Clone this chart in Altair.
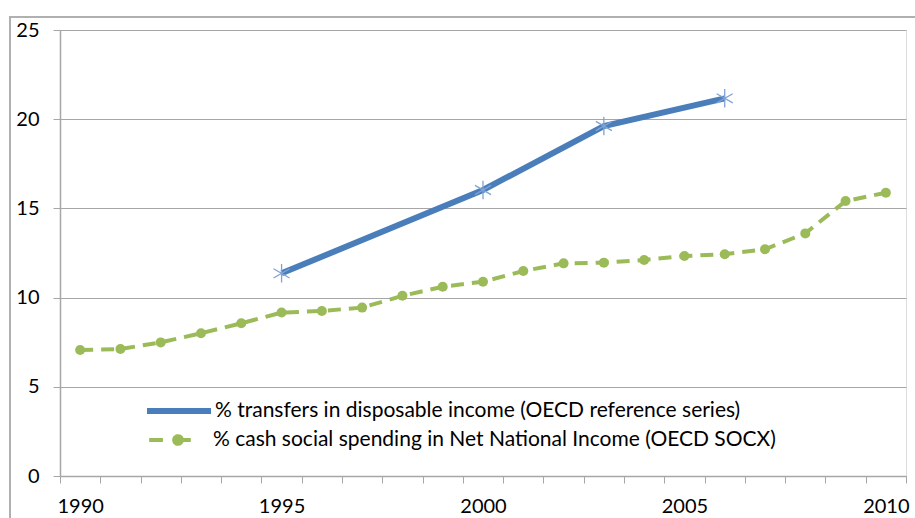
import altair as alt
import pandas as pd

# ---- data ----
years_socx = list(range(1990, 2011))
socx_values = [7.06, 7.12, 7.49, 8.0, 8.56, 9.16, 9.25, 9.44, 10.1, 10.61, 10.89,
               11.49, 11.92, 11.96, 12.11, 12.33, 12.43, 12.71, 13.6, 15.41, 15.88]
years_ref = [1995, 2000, 2003, 2006]
ref_values = [11.36, 16.03, 19.62, 21.17]
label_ref = "% transfers in disposable income (OECD reference series)"
label_socx = "% cash social spending in Net National Income (OECD SOCX)"
x_label_values = [1990, 1995, 2000, 2005, 2010]
x_tick_values = [y - 0.5 for y in range(1990, 2012)]
y_values = [0, 5, 10, 15, 20, 25]

BLUE = "#4A7EBB"
STAR = "#7FA3D4"
GREEN = "#9BBB59"
GRID = "#A6A6A6"
FONT = "Lato"

df_ref = pd.DataFrame({"year": years_ref, "value": ref_values, "series": label_ref})
df_socx = pd.DataFrame({"year": years_socx, "value": socx_values, "series": label_socx})

xscale = alt.Scale(domain=[1989.5, 2010.5], nice=False, zero=False)
yscale = alt.Scale(domain=[0, 25], nice=False)

y_axis = alt.Axis(values=y_values, title=None, grid=True, gridColor=GRID,
                  gridWidth=1, domainColor=GRID, domainWidth=1.5, orient="left",
                  tickColor=GRID, tickSize=7, labelFont=FONT,
                  labelFontSize=20, labelColor="black", labelPadding=14,
                  labelBaseline="middle")
y_enc = alt.Y("value:Q", scale=yscale, axis=y_axis)

x_ticks_axis = alt.Axis(values=x_tick_values, labels=False, title=None, grid=False,
                        orient="bottom", domainColor=GRID, domainWidth=1.5,
                        tickColor=GRID, tickSize=7)
x_labels_axis = alt.Axis(values=x_label_values, format="d", ticks=False, domain=False,
                         orient="bottom", title=None, grid=False, labelFont=FONT,
                         labelFontSize=20, labelColor="black", labelPadding=20)

border = alt.Chart(pd.DataFrame({"a": [0]})).mark_rect(
    fill=None, stroke="#B0B0B0", strokeWidth=2
).encode(x=alt.value(-50), x2=alt.value(900), y=alt.value(-13), y2=alt.value(530))

green_line = alt.Chart(df_socx).mark_line(
    strokeWidth=4, strokeDash=[13, 8]
).encode(
    x=alt.X("year:Q", scale=xscale, axis=x_labels_axis),
    y=y_enc,
    color=alt.Color("series:N", scale=alt.Scale(domain=[label_socx], range=[GREEN]),
                    legend=alt.Legend(
                        title=None, orient="none", legendX=84, legendY=376,
                        symbolType="M-0.9,0H-0.47M0.1,0H0.4M-0.12,0A0.12,0.12 0 1 1 0.12,0A0.12,0.12 0 1 1 -0.12,0",
                        symbolSize=4096, symbolStrokeWidth=4, symbolFillColor=GREEN,
                        symbolDash=[1, 0],
                        labelFont=FONT, labelFontSize=21, labelColor="black",
                        labelOffset=1, padding=0, labelLimit=900)),
)

green_pts = alt.Chart(df_socx).mark_point(
    filled=True, size=100, opacity=1, color=GREEN, shape="circle"
).encode(x=alt.X("year:Q", scale=xscale, axis=x_ticks_axis), y=y_enc)

blue_line = alt.Chart(df_ref).mark_line(strokeWidth=6).encode(
    x=alt.X("year:Q", scale=xscale, axis=None),
    y=y_enc,
    color=alt.Color("series:N", scale=alt.Scale(domain=[label_ref], range=[BLUE]),
                    legend=alt.Legend(
                        title=None, orient="none", legendX=84, legendY=346,
                        symbolType="M-1,0H1", symbolSize=4096, symbolStrokeWidth=6,
                        labelFont=FONT, labelFontSize=21, labelColor="black",
                        labelOffset=1, padding=0, labelLimit=900)),
)

blue_pts = alt.Chart(df_ref).mark_point(
    filled=False, size=340, opacity=1, color=STAR, strokeWidth=1.3,
    shape="M0,-1V1M-0.87,-0.5L0.87,0.5M-0.87,0.5L0.87,-0.5"
).encode(x=alt.X("year:Q", scale=xscale, axis=None), y=y_enc)

chart = alt.layer(border, green_line, green_pts, blue_line, blue_pts).resolve_scale(
    color="independent"
).resolve_axis(x="independent").properties(
    width=846, height=446,
    autosize=alt.AutoSizeParams(type="none"),
    padding={"left": 60, "top": 30, "right": 9, "bottom": 42},
).configure_view(stroke=None).configure(background="white")

chart.save("out.html", embed_options={"renderer": "svg", "actions": False})
